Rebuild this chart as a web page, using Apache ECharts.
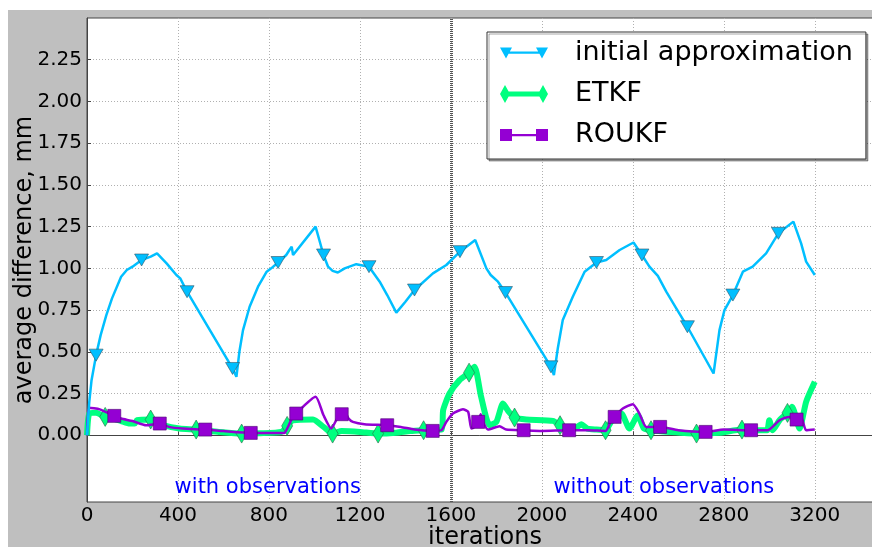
<!DOCTYPE html>
<html>
<head>
<meta charset="utf-8">
<script src="https://cdn.jsdelivr.net/npm/echarts@6/dist/echarts.min.js"></script>
<style>
html,body{margin:0;padding:0;background:#fff;}
#bg{position:absolute;left:8px;top:10px;width:864px;height:537px;background:#bfbfbf;}
#chart{position:absolute;left:0;top:0;width:872px;height:547px;}
</style>
</head>
<body>
<div id="bg"></div>
<div id="chart"></div>
<script>
// ---- data ----
var xTicks = [0,400,800,1200,1600,2000,2400,2800,3200];
var yTicks = [0,0.25,0.5,0.75,1.0,1.25,1.5,1.75,2.0,2.25];

var initX = [0,10,20,40,60,85,110,150,175,200,240,280,308,350,393,410,440,640,657,670,686,715,752,790,810,840,876,890,900,906,1005,1040,1060,1080,1103,1133,1184,1240,1287,1320,1360,1400,1440,1521,1580,1640,1707,1756,1775,1807,1840,2040,2053,2070,2092,2136,2188,2240,2283,2342,2403,2440,2473,2510,2547,2591,2640,2755,2781,2803,2840,2884,2927,2986,3040,3106,3140,3162,3200];
var initY = [0.00,0.20,0.33,0.48,0.60,0.72,0.82,0.95,0.99,1.01,1.05,1.07,1.09,1.03,0.96,0.94,0.86,0.40,0.35,0.50,0.63,0.77,0.89,0.98,1.00,1.035,1.08,1.11,1.13,1.08,1.25,1.08,1.01,0.985,0.975,1.00,1.025,1.01,0.92,0.84,0.735,0.80,0.87,0.97,1.02,1.10,1.17,1.00,0.96,0.92,0.855,0.41,0.36,0.52,0.69,0.83,0.98,1.035,1.05,1.11,1.155,1.08,1.01,0.955,0.86,0.76,0.65,0.37,0.63,0.75,0.84,0.98,1.01,1.09,1.21,1.28,1.15,1.04,0.96];
var initMarks = [40,240,440,640,840,1040,1240,1440,1640,1840,2040,2240,2440,2640,2840,3040];

var etkfX = [0,10,40,80,115,150,188,210,220,280,300,334,407,480,580,680,760,855,880,906,994,1040,1080,1120,1200,1280,1360,1420,1480,1560,1566,1594,1638,1680,1704,1733,1770,1800,1829,1855,1880,1931,2049,2080,2110,2150,2173,2200,2240,2280,2300,2320,2349,2385,2422,2449,2480,2560,2680,2780,2880,2940,2990,3000,3015,3045,3080,3100,3133,3162,3200];
var etkfY = [0.00,0.13,0.135,0.11,0.10,0.085,0.07,0.07,0.09,0.094,0.08,0.06,0.04,0.034,0.02,0.01,0.012,0.02,0.056,0.09,0.094,0.05,0.01,0.025,0.02,0.01,0.015,0.025,0.03,0.035,0.15,0.25,0.33,0.375,0.41,0.23,0.06,0.08,0.19,0.14,0.106,0.094,0.086,0.06,0.04,0.045,0.066,0.04,0.034,0.03,0.07,0.12,0.13,0.04,0.12,0.04,0.03,0.02,0.01,0.015,0.034,0.03,0.03,0.09,0.03,0.09,0.134,0.17,0.04,0.20,0.32];
var etkfMarks = [80,280,480,680,880,1080,1280,1480,1680,1880,2080,2280,2480,2680,2880,3080];

var roukfX = [0,10,56,120,150,200,260,320,360,420,520,600,720,868,880,898,920,1005,1040,1074,1100,1120,1130,1150,1169,1220,1320,1380,1440,1520,1558,1580,1609,1653,1676,1690,1704,1720,1731,1745,1763,1814,1843,1920,2000,2120,2200,2280,2305,2320,2356,2400,2429,2459,2520,2600,2720,2800,2920,2993,3045,3087,3120,3140,3162,3200];
var roukfY = [0.00,0.165,0.155,0.116,0.10,0.085,0.06,0.07,0.05,0.04,0.034,0.025,0.014,0.014,0.04,0.09,0.13,0.23,0.12,0.04,0.10,0.126,0.15,0.10,0.08,0.066,0.06,0.05,0.034,0.026,0.03,0.08,0.13,0.155,0.14,0.04,0.05,0.08,0.126,0.07,0.034,0.054,0.034,0.03,0.026,0.03,0.03,0.026,0.09,0.11,0.16,0.186,0.13,0.05,0.05,0.03,0.02,0.034,0.03,0.03,0.09,0.11,0.094,0.11,0.03,0.034];
var roukfMarks = [120,320,520,720,920,1120,1320,1520,1720,1920,2120,2320,2520,2720,2920,3120];

var seriesNames = ['initial approximation','ETKF','ROUKF'];
var annotTexts = ['with observations','without observations'];
var annotX = [795, 2536];
var annotY = [-0.3125, -0.3125];
var splitX = 1600;

// ---- build ----
function pairs(xs, ys){ return xs.map(function(x,i){ return [x, ys[i]]; }); }
function symFn(marks, sym){ return function(v){ return marks.indexOf(v[0]) >= 0 ? sym : 'none'; }; }

var FONT = 'DejaVu Sans';
var chart = echarts.init(document.getElementById('chart'), null, {renderer:'canvas'});
var option = {
  animation: false,
  backgroundColor: 'transparent',
  textStyle: {fontFamily: FONT},
  grid: {left: 87, top: 18, width: 796, height: 484, containLabel: false, outerBoundsMode: 'none',
    show: true, backgroundColor: '#fff', borderColor: '#444', borderWidth: 1},
  xAxis: {
    type: 'value', min: 0, max: 3500, interval: 400,
    name: 'iterations', nameLocation: 'middle', nameGap: 24, nameMoveOverlap: false,
    nameTextStyle: {fontSize: 24, color: '#000', fontFamily: FONT},
    axisLine: {show: true, lineStyle: {color: '#444'}},
    axisTick: {show: true, inside: true, length: 4, lineStyle: {color: '#444'}},
    axisLabel: {fontSize: 20, color: '#000', margin: 4, showMaxLabel: false, fontFamily: FONT,
      formatter: function(v){ return String(v); }},
    splitLine: {show: true, lineStyle: {color: '#b0b0b0', type: [1,2], width: 1}}
  },
  yAxis: {
    type: 'value', min: -0.4, max: 2.5,
    name: 'average difference, mm', nameLocation: 'middle', nameGap: 50, nameMoveOverlap: false,
    nameTextStyle: {fontSize: 24, color: '#000', fontFamily: FONT},
    axisLine: {show: true, lineStyle: {color: '#444'}},
    axisTick: {show: true, inside: true, length: 4, customValues: yTicks, lineStyle: {color: '#444'}},
    axisLabel: {fontSize: 20, color: '#000', margin: 5, customValues: yTicks, fontFamily: FONT,
      formatter: function(v){ return v.toFixed(2); }},
    splitLine: {show: true, lineStyle: {color: '#b0b0b0', type: [1,2], width: 1}}
  },
  legend: {
    data: [
      {name: seriesNames[0], icon: 'path://M0,0L12,0L6,11ZM36,0L48,0L42,11ZM6,4L42,4L42,6.2L6,6.2Z'},
      {name: seriesNames[1], icon: 'path://M5,0L10,9L5,18L0,9ZM43,0L48,9L43,18L38,9ZM5,6.5L43,6.5L43,11.5L5,11.5Z'},
      {name: seriesNames[2], icon: 'path://M0,0L12,0L12,12L0,12ZM36,0L48,0L48,12L36,12ZM12,5L36,5L36,7.2L12,7.2Z'}
    ],
    orient: 'vertical', left: 487, top: 32,
    itemWidth: 48, itemHeight: 18, itemGap: 11,
    symbolKeepAspect: true,
    itemStyle: {borderWidth: 0},
    padding: [6, 13, 9, 13],
    backgroundColor: '#fff', borderColor: '#333', borderWidth: 1,
    shadowColor: 'rgba(0,0,0,0.35)', shadowOffsetX: 2, shadowOffsetY: 2, shadowBlur: 0,
    textStyle: {fontSize: 27, color: '#000', fontFamily: FONT, lineHeight: 30, padding: [0,0,0,22]}
  },
  series: [
    {
      name: seriesNames[1], type: 'line', data: pairs(etkfX, etkfY), z: 2,
      smooth: 0.2, showAllSymbol: true,
      symbol: symFn(etkfMarks, 'diamond'), symbolSize: [11, 19],
      lineStyle: {color: '#00ff7f', width: 6},
      itemStyle: {color: '#00ff7f', borderColor: '#2a6a4a', borderWidth: 0.6}
    },
    {
      name: seriesNames[2], type: 'line', data: pairs(roukfX, roukfY), z: 3,
      smooth: 0.2, showAllSymbol: true,
      symbol: symFn(roukfMarks, 'rect'), symbolSize: 13,
      lineStyle: {color: '#9400d3', width: 2.5},
      itemStyle: {color: '#9400d3', borderColor: '#4a0070', borderWidth: 0.6}
    },
    {
      name: seriesNames[0], type: 'line', data: pairs(initX, initY), z: 4,
      smooth: false, showAllSymbol: true,
      symbol: symFn(initMarks, 'triangle'), symbolRotate: 180, symbolSize: [14, 12],
      lineStyle: {color: '#00bfff', width: 2.5},
      itemStyle: {color: '#00bfff', borderColor: '#335566', borderWidth: 0.6},
      markLine: {
        silent: true, symbol: 'none', label: {show: false}, z: 1,
        lineStyle: {color: '#555', width: 3, type: [1,1]},
        data: [{xAxis: splitX}]
      }
    },
    {
      name: 'annotations', type: 'scatter', silent: true, z: 5,
      data: annotX.map(function(x,i){ return {value: [x, annotY[i]], name: annotTexts[i]}; }),
      symbolSize: 1, itemStyle: {color: 'rgba(0,0,0,0)'},
      label: {show: true, position: 'inside', formatter: function(p){ return p.name; },
        color: '#0000ff', opacity: 1, fontSize: 21, fontFamily: FONT}
    }
  ]
};
chart.setOption(option);
</script>
</body>
</html>
